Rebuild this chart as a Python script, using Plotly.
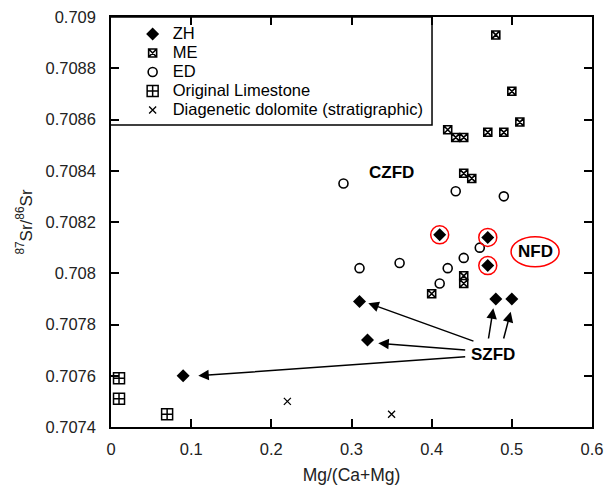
import plotly.graph_objects as go

# ---------------- data ----------------
zh_x = [0.41, 0.47, 0.47, 0.31, 0.32, 0.09, 0.48, 0.50]
zh_y = [0.70815, 0.70814, 0.70803, 0.70789, 0.70774, 0.70760, 0.70790, 0.70790]
nfd_idx = [0, 1, 2]  # ZH samples circled in red (NFD)

me_x = [0.48, 0.50, 0.51, 0.42, 0.43, 0.44, 0.47, 0.49, 0.44, 0.45, 0.44, 0.44, 0.40]
me_y = [0.70893, 0.70871, 0.70859, 0.70856, 0.70853, 0.70853, 0.70855, 0.70855,
        0.70839, 0.70837, 0.70799, 0.70796, 0.70792]

ed_x = [0.29, 0.43, 0.49, 0.46, 0.44, 0.42, 0.41, 0.31, 0.36]
ed_y = [0.70835, 0.70832, 0.70830, 0.70810, 0.70806, 0.70802, 0.70796, 0.70802, 0.70804]

ol_x = [0.01, 0.01, 0.07]
ol_y = [0.70759, 0.70751, 0.70745]

dd_x = [0.22, 0.35]
dd_y = [0.70750, 0.70745]

series_names = ["ZH", "ME", "ED", "Original Limestone", "Diagenetic dolomite (stratigraphic)"]

x_ticks = [0, 0.1, 0.2, 0.3, 0.4, 0.5, 0.6]
x_tick_labels = ["0", "0.1", "0.2", "0.3", "0.4", "0.5", "0.6"]
y_ticks = [0.7074, 0.7076, 0.7078, 0.708, 0.7082, 0.7084, 0.7086, 0.7088, 0.709]
y_tick_labels = ["0.7074", "0.7076", "0.7078", "0.708", "0.7082", "0.7084", "0.7086", "0.7088", "0.709"]

FONT = "Arial, Liberation Sans, sans-serif"


def legend_name(s):
    return '<span style="font-size:16.5px">' + s + "</span>"


fig = go.Figure()

fig.add_trace(go.Scatter(x=zh_x, y=zh_y, mode="markers", name=legend_name(series_names[0]),
                         marker=dict(symbol="diamond", size=10, color="black")))
fig.add_trace(go.Scatter(x=me_x, y=me_y, mode="markers", name=legend_name(series_names[1]),
                         marker=dict(symbol="square-x", size=8, color="white",
                                     line=dict(color="black", width=1.6))))
fig.add_trace(go.Scatter(x=ed_x, y=ed_y, mode="markers", name=legend_name(series_names[2]),
                         marker=dict(symbol="circle-open", size=9, color="black",
                                     line=dict(width=1.6))))
fig.add_trace(go.Scatter(x=ol_x, y=ol_y, mode="markers", name=legend_name(series_names[3]),
                         marker=dict(symbol="square-cross", size=11, color="white",
                                     line=dict(color="black", width=1.5))))
fig.add_trace(go.Scatter(x=dd_x, y=dd_y, mode="markers", name=legend_name(series_names[4]),
                         marker=dict(symbol="x-thin-open", size=7, color="black",
                                     line=dict(width=1.3))))
fig.add_trace(go.Scatter(x=[zh_x[i] for i in nfd_idx], y=[zh_y[i] for i in nfd_idx],
                         mode="markers", showlegend=False, hoverinfo="skip",
                         marker=dict(symbol="circle-open", size=18, color="red",
                                     line=dict(width=1.5))))

# arrows pointing from SZFD label to samples (head, tail)
arrows = [
    ((0.321, 0.707883), (0.454, 0.707733)),
    ((0.3334, 0.707727), (0.4437, 0.7077005)),
    ((0.1089, 0.7076), (0.4437, 0.7076744)),
    ((0.4769, 0.7078633), (0.4706, 0.7077395)),
    ((0.4986, 0.70785), (0.4893, 0.7077395)),
]
annotations = []
for (hx, hy), (tx, ty) in arrows:
    annotations.append(dict(x=hx, y=hy, ax=tx, ay=ty, xref="x", yref="y",
                            axref="x", ayref="y", text="", showarrow=True,
                            arrowhead=2, arrowsize=1.4, arrowwidth=1.5,
                            arrowcolor="black", standoff=0, startstandoff=0))

label_font = dict(family=FONT, size=17, color="black")
annotations += [
    dict(x=0.350, y=0.708392, text="<b>CZFD</b>", showarrow=False, font=label_font),
    dict(x=0.477, y=0.707681, text="<b>SZFD</b>", showarrow=False, font=label_font),
    dict(x=0.529, y=0.708084, text="<b>NFD</b>", showarrow=False, font=label_font),
]

shapes = [
    # NFD ellipse
    dict(type="circle", xref="x", yref="y", xsizemode="pixel", ysizemode="pixel",
         xanchor=0.529, yanchor=0.708084, x0=-24, x1=24, y0=-15, y1=15,
         line=dict(color="red", width=1.5)),
    # legend box
    dict(type="rect", xref="paper", yref="paper", x0=-0.002, x1=0.6674,
         y0=0.7366, y1=1.0, line=dict(color="black", width=1.5),
         fillcolor="white", layer="below"),
]

axis_common = dict(showgrid=False, zeroline=False, showline=True, linecolor="black",
                   linewidth=1.5, mirror="ticks", ticks="inside", ticklen=8,
                   tickwidth=1.5, tickcolor="black", automargin=False,
                   tickfont=dict(family=FONT, size=16.5, color="#222"))

fig.update_layout(
    width=605, height=489,
    margin=dict(l=111, r=13, t=17, b=62, autoexpand=False),
    paper_bgcolor="white", plot_bgcolor="white",
    font=dict(family=FONT, size=16, color="black"),
    xaxis=dict(range=[0, 0.6], tickvals=x_ticks, ticktext=x_tick_labels,
               title=dict(text="Mg/(Ca+Mg)", standoff=12,
                          font=dict(family=FONT, size=17.5, color="#222")),
               ticklabelstandoff=6, **axis_common),
    yaxis=dict(range=[0.7074, 0.709], tickvals=y_ticks, ticktext=y_tick_labels,
               title=dict(text="<sup>87</sup>Sr/<sup>86</sup>Sr", standoff=9,
                          font=dict(family=FONT, size=17, color="#222")),
               ticklabelstandoff=10, **axis_common),
    legend=dict(x=0.045, y=0.994, xanchor="left", yanchor="top",
                bgcolor="rgba(0,0,0,0)", borderwidth=0,
                font=dict(family=FONT, size=12, color="black"),
                tracegroupgap=0),
    showlegend=True,
    annotations=annotations,
    shapes=shapes,
)

fig.write_html("out.html")
